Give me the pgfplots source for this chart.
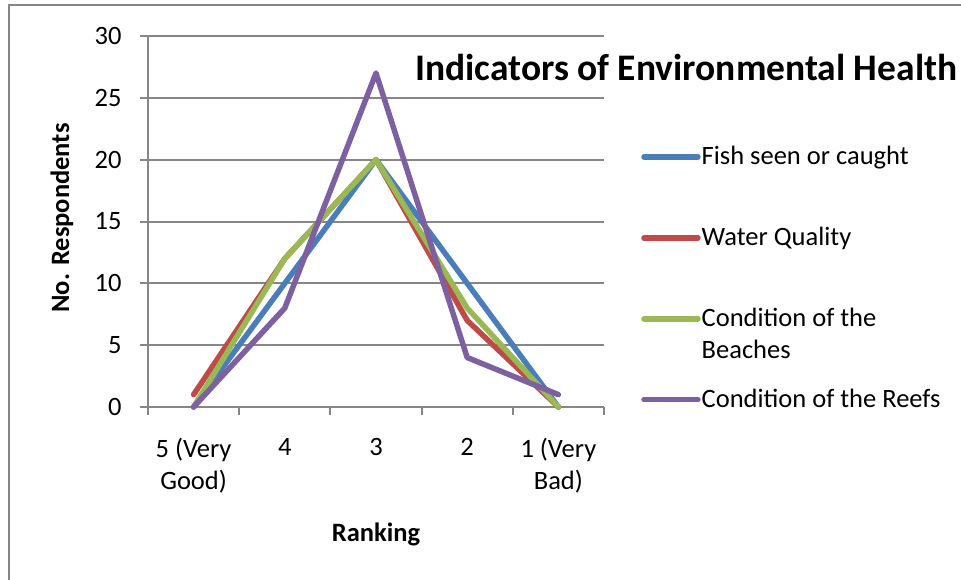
\documentclass[border=0pt]{standalone}
\usepackage{pgfplots}
\pgfplotsset{compat=1.18}
\usepackage{fontspec}
\setmainfont{Carlito}
\definecolor{cBlue}{HTML}{4A7EBB}
\definecolor{cRed}{HTML}{BE4B48}
\definecolor{cGreen}{HTML}{98B954}
\definecolor{cPurple}{HTML}{7D60A0}
\definecolor{gridg}{HTML}{868686}
\begin{document}
\begin{tikzpicture}[x=1pt,y=1pt]
\useasboundingbox (0,0) rectangle (961,-580);
\draw[gridg, line width=2.5pt] (9,-590) -- (9,-5) -- (970,-5);
\begin{axis}[
  at={(148pt,-407pt)}, anchor=south west,
  scale only axis, width=456pt, height=371pt,
  xmin=-0.5, xmax=4.5, ymin=0, ymax=30,
  ytick={0,5,...,30},
  xtick={0,1,2,3,4},
  xticklabels={{5 (Very\\Good)},4,3,2,{1 (Very\\Bad)}},
  minor xtick={-0.5,0.5,1.5,2.5,3.5,4.5},
  major x tick style={draw=none},
  tick align=outside,
  major tick length=8pt, minor tick length=8pt,
  axis x line*=bottom, axis y line*=left,
  axis line style={gridg, line width=2pt},
  tick style={gridg, line width=2pt},
  ymajorgrids, grid style={gridg, line width=2pt},
  /pgf/number format/assume math mode=true,
  ticklabel style={font=\fontsize{26.5}{32}\selectfont},
  xticklabel style={align=center, yshift=-20pt},
  yticklabel style={xshift=-15pt},
  ylabel={\textbf{No. Respondents}},
  xlabel={\textbf{Ranking}},
  label style={font=\fontsize{26.5}{32}\selectfont},
  xlabel style={at={(axis description cs:0.5,0)}, anchor=center, yshift=-127pt},
  ylabel style={at={(axis description cs:0,0.5)}, anchor=center, yshift=86pt, xshift=3.5pt},
  clip=false,
  legend style={draw=none, fill=none, at={(1.0746,0.712)}, anchor=north west,
    font=\fontsize{26.5}{32}\selectfont, row sep=27pt,
    nodes={align=left, inner sep=1pt}},
  legend cell align=left,
  legend image code/.code={\draw[#1] (0pt,15pt) -- (54pt,15pt);},
  every axis plot/.append style={line width=5.5pt, line cap=round, line join=round},
]
\addplot[cBlue] coordinates {(0,0) (1,10) (2,20) (3,10) (4,0)};
\addlegendentry{Fish seen or caught\\\strut}
\addplot[cRed] coordinates {(0,1) (1,12) (2,20) (3,7) (4,0)};
\addlegendentry{Water Quality\\\strut}
\addplot[cGreen] coordinates {(0,0) (1,12) (2,20) (3,8) (4,0)};
\addlegendentry{Condition of the\\Beaches}
\addplot[cPurple] coordinates {(0,0) (1,8) (2,27) (3,4) (4,1)};
\addlegendentry{Condition of the Reefs\\\strut}
\end{axis}
\node[font=\bfseries\fontsize{37.5}{44}\selectfont, anchor=west, inner sep=0pt] at (415,-67) {Indicators of Environmental Health};
\end{tikzpicture}
\end{document}
